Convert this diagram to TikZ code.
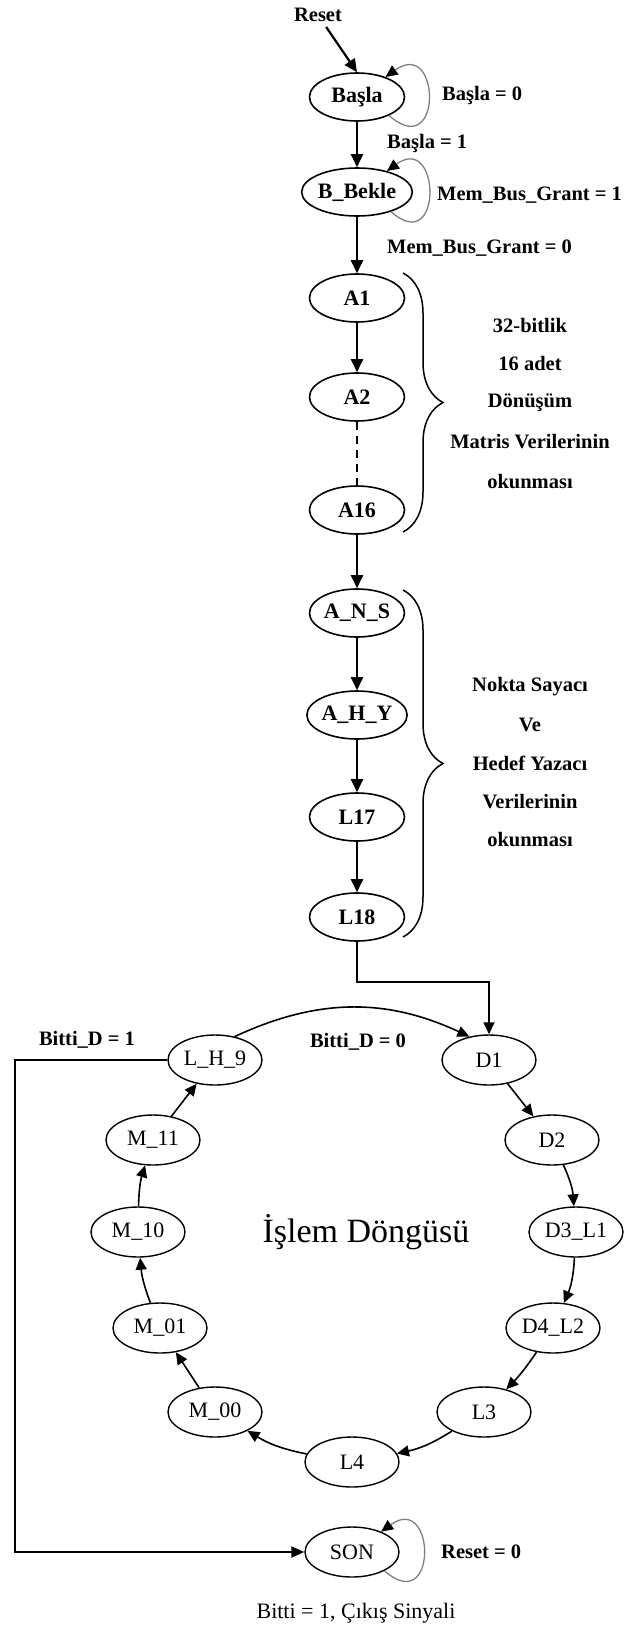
\documentclass[tikz,border=0pt]{standalone}
\usepackage{fontspec}
\setmainfont{Liberation Serif}
\usetikzlibrary{shapes.geometric,arrows.meta,decorations.pathreplacing,calc}

\begin{document}
\begin{tikzpicture}[x=1pt,y=1pt,
  state/.style={ellipse,draw,line width=1.6pt,minimum width=95pt,minimum height=48pt,inner sep=0pt,
    font=\fontsize{22}{25}\selectfont\bfseries},
  rstate/.style={ellipse,draw,line width=1.4pt,minimum width=94pt,minimum height=50pt,inner sep=0pt,
    font=\fontsize{22}{25}\selectfont},
  lbl/.style={inner sep=0pt,font=\fontsize{20.5}{24}\selectfont\bfseries},
  plain/.style={inner sep=0pt,font=\fontsize{22}{25}\selectfont},
  mainarrow/.style={line width=2.2pt,-{Triangle[length=13pt,width=12pt]}},
  ringarrow/.style={line width=1.6pt,-{Triangle[length=12pt,width=11pt]}},
  selfloop/.style={draw=gray,line width=1.3pt,-{Triangle[length=12pt,width=11pt,color=black]}},
  curly/.style={decorate,decoration={brace,amplitude=40pt,aspect=0.5},line width=1.5pt}
]
\useasboundingbox (0,0) rectangle (631,-1630);

% ---- initialisation chain
\node[lbl] (reset) at (318,-15) {Reset};
\node[state] (Basla)  at (357,-97)  {Başla};
\node[state] (BBekle) at (357,-192) {B\_Bekle};
\node[state] (A1)  at (357,-298) {A1};
\node[state] (A2)  at (357,-397) {A2};
\node[state] (A16) at (357,-510) {A16};
\node[state] (ANS) at (357,-613) {A\_N\_S};
\node[state] (AHY) at (357,-715) {A\_H\_Y};
\node[state] (L17) at (357,-817) {L17};
\node[state] (L18) at (357,-917) {L18};

\draw[mainarrow,shorten <=6pt] (reset) -- (Basla.north);
\draw[mainarrow] (Basla) -- (BBekle);
\draw[mainarrow] (BBekle) -- (A1);
\draw[mainarrow] (A1) -- (A2);
\draw[line width=2.2pt,dash pattern=on 8pt off 6pt] (A2) -- (A16);
\draw[mainarrow] (A16) -- (ANS);
\draw[mainarrow] (ANS) -- (AHY);
\draw[mainarrow] (AHY) -- (L17);
\draw[mainarrow] (L17) -- (L18);

\draw[selfloop] (Basla.-30) .. controls ($(Basla)+(86,-66)$) and ($(Basla)+(84,60)$) .. (Basla.35);
\draw[selfloop] (BBekle.-30) .. controls ($(BBekle)+(86,-66)$) and ($(BBekle)+(84,60)$) .. (BBekle.35);

\node[lbl,anchor=west] (lb0) at (442,-95)  {Başla = 0};
\node[lbl,anchor=west] (lb1) at (387,-143) {Başla = 1};
\node[lbl,anchor=west] (lm1) at (437,-195) {Mem\_Bus\_Grant = 1};
\node[lbl,anchor=west] (lm0) at (387,-248) {Mem\_Bus\_Grant = 0};

% ---- braces and their notes
\draw[curly] (403,-273) -- (403,-532);
\node[lbl] (n1a) at (530,-325) {32-bitlik};
\node[lbl] (n1b) at (530,-363) {16 adet};
\node[lbl] (n1c) at (530,-403) {Dönüşüm};
\node[lbl] (n1d) at (530,-442) {Matris Verilerinin};
\node[lbl] (n1e) at (530,-482) {okunması};

\draw[curly] (403,-590) -- (403,-937);
\node[lbl] (n2a) at (530,-687) {Nokta Sayacı};
\node[lbl] (n2b) at (530,-725) {Ve};
\node[lbl] (n2c) at (530,-763) {Hedef Yazacı};
\node[lbl] (n2d) at (530,-802) {Verilerinin};
\node[lbl] (n2e) at (530,-840) {okunması};

% ---- processing loop
\node[rstate] (LH9)  at (215,-1060) {L\_H\_9};
\node[rstate] (D1)   at (489,-1060) {D1};
\node[rstate] (M11)  at (153,-1140) {M\_11};
\node[rstate] (D2)   at (552,-1140) {D2};
\node[rstate] (M10)  at (138,-1232) {M\_10};
\node[rstate] (D3L1) at (576,-1232) {D3\_L1};
\node[rstate] (M01)  at (160,-1328) {M\_01};
\node[rstate] (D4L2) at (553,-1328) {D4\_L2};
\node[rstate] (M00)  at (215,-1412) {M\_00};
\node[rstate] (L3)   at (484,-1412) {L3};
\node[rstate] (L4)   at (352,-1462) {L4};
\node[rstate] (SON)  at (352,-1552) {SON};

\node[font=\fontsize{34}{38}\selectfont,inner sep=0pt] (islem) at (366,-1232) {İşlem Döngüsü};

\coordinate (jog) at (357,-982);
\draw[ringarrow] (L18.south) -- (jog) -| (D1.north);

\draw[ringarrow] (LH9.50) to[bend left=25] (D1.130);
\draw[ringarrow] (D1) -- (D2);
\draw[ringarrow] (D2) to[bend left=10] (D3L1);
\draw[ringarrow] (D3L1) to[bend left=10] (D4L2);
\draw[ringarrow] (D4L2) to[bend left=5] (L3);
\draw[ringarrow] (L3) to[bend left=10] (L4);
\draw[ringarrow] (L4) to[bend left=10] (M00);
\draw[ringarrow] (M00) -- (M01);
\draw[ringarrow] (M01) to[bend left=8] (M10);
\draw[ringarrow] (M10) to[bend left=8] (M11);
\draw[ringarrow] (M11) -- (LH9);

\coordinate (leftc) at (15,-1060);
\draw[line width=2pt,-{Triangle[length=13pt,width=11pt]}] (LH9.west) -- (leftc) |- (SON.west);

\draw[selfloop] (SON.-30) .. controls ($(SON)+(86,-66)$) and ($(SON)+(84,60)$) .. (SON.35);

\node[lbl] (bd1) at (87,-1040)  {Bitti\_D = 1};
\node[lbl] (bd0) at (358,-1042) {Bitti\_D = 0};
\node[lbl,anchor=west] (r0) at (441,-1552) {Reset = 0};
\node[plain] (fin) at (356,-1613) {Bitti = 1, Çıkış Sinyali};
\end{tikzpicture}
\end{document}
